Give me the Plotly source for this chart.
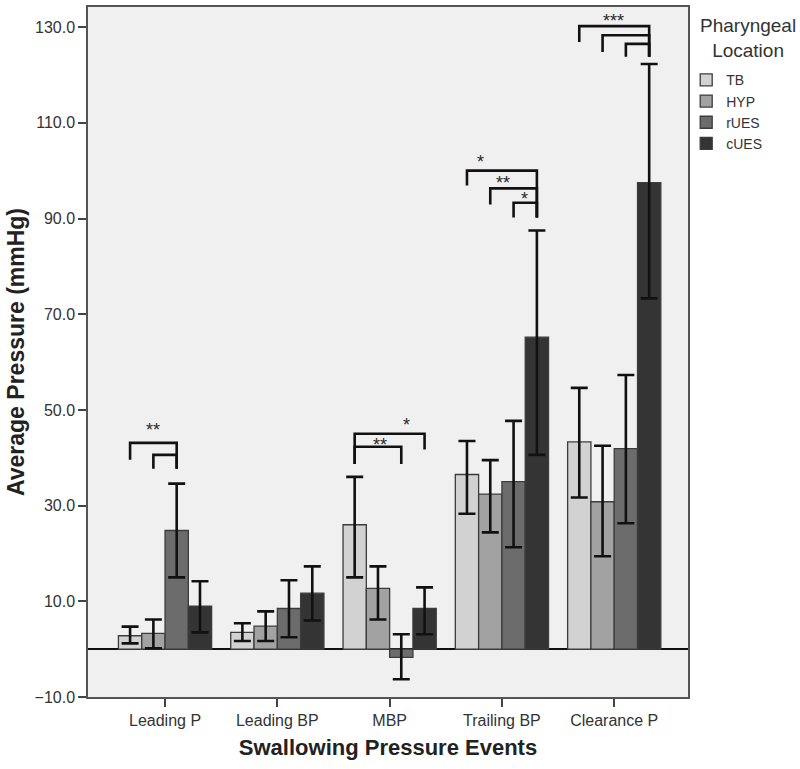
import plotly.graph_objects as go

categories = ["Leading P", "Leading BP", "MBP", "Trailing BP", "Clearance P"]
locations = ["TB", "HYP", "rUES", "cUES"]

mean_TB = [2.8, 3.5, 26.0, 36.5, 43.3]
mean_HYP = [3.3, 4.8, 12.7, 32.4, 30.8]
mean_rUES = [24.8, 8.5, -1.7, 35.0, 41.9]
mean_cUES = [9.0, 11.7, 8.5, 65.2, 97.5]

upper_TB = [4.7, 5.4, 36.0, 43.5, 54.6]
upper_HYP = [6.2, 7.9, 17.3, 39.5, 42.5]
upper_rUES = [34.6, 14.4, 3.1, 47.7, 57.3]
upper_cUES = [14.2, 17.3, 12.9, 87.5, 122.3]

lower_TB = [1.2, 1.7, 15.0, 28.3, 31.7]
lower_HYP = [0.2, 1.7, 6.2, 24.4, 19.4]
lower_rUES = [15.0, 2.5, -6.3, 21.3, 26.3]
lower_cUES = [3.5, 6.0, 3.1, 40.6, 73.3]

means = [mean_TB, mean_HYP, mean_rUES, mean_cUES]
uppers = [upper_TB, upper_HYP, upper_rUES, upper_cUES]
lowers = [lower_TB, lower_HYP, lower_rUES, lower_cUES]
colors = ["#d2d2d2", "#a2a2a2", "#6c6c6c", "#343434"]

# significance brackets: (category, left bar, right bar, top, left leg end, right leg end, label, label y, label bar-position)
brackets = [
    (0, 0, 2, 43.1, 39.6, 37.7, "**", 46.7, 1.0),
    (0, 1, 2, 40.6, 37.7, 37.7, "", None, None),
    (2, 0, 3, 45.0, 38.7, 41.7, "*", 47.7, 2.23),
    (2, 0, 2, 42.3, 38.7, 38.7, "**", 43.6, 1.1),
    (3, 0, 3, 100.0, 96.9, 90.2, "*", 102.7, 0.56),
    (3, 1, 3, 96.3, 92.9, 90.2, "**", 98.3, 1.54),
    (3, 2, 3, 93.3, 90.2, 90.2, "*", 95.0, 2.49),
    (4, 0, 3, 130.2, 126.9, 123.8, "***", 132.1, 1.46),
    (4, 1, 3, 128.3, 124.8, 123.8, "", None, None),
    (4, 2, 3, 126.5, 123.8, 123.8, "", None, None),
]

bargap = 0.17
nb = len(locations)
bw = (1 - bargap) / nb


def bar_x(cat, k):
    return cat - (1 - bargap) / 2 + (k + 0.5) * bw


fig = go.Figure()
xs = list(range(len(categories)))
for i, loc in enumerate(locations):
    m = means[i]
    fig.add_trace(go.Bar(
        x=xs, y=m, name=loc,
        marker=dict(color=colors[i], line=dict(color="#3c3c3c", width=1.3)),
        error_y=dict(type="data", symmetric=False,
                     array=[u - v for u, v in zip(uppers[i], m)],
                     arrayminus=[v - l for v, l in zip(m, lowers[i])],
                     color="#111111", thickness=2.6, width=8.5),
    ))

for cat, a, b, top, lb, rb, lab, ly, lx in brackets:
    x0 = bar_x(cat, a)
    x1 = bar_x(cat, b)
    fig.add_shape(type="path", xref="x", yref="y",
                  path=f"M {x0},{lb} L {x0},{top} L {x1},{top} L {x1},{rb}",
                  line=dict(color="#111111", width=2.6))
    if lab:
        fig.add_annotation(x=bar_x(cat, lx), y=ly, xref="x", yref="y", text=lab,
                           showarrow=False, yanchor="middle", yshift=-4,
                           font=dict(family="Liberation Sans, Arial", size=18, color="#2a2a2a"))

fig.add_annotation(xref="paper", yref="paper", x=1.1, y=1.0, yanchor="top", xanchor="center",
                   yshift=-6,
                   text="Pharyngeal<br>Location", showarrow=False, align="center",
                   font=dict(family="Liberation Sans, Arial", size=19, color="#333333"))

fig.update_layout(
    width=800, height=769,
    margin=dict(l=88, r=112, t=5, b=72),
    paper_bgcolor="white", plot_bgcolor="#f0f0f0",
    barmode="group", bargap=bargap, bargroupgap=0,
    font=dict(family="Liberation Sans, Arial", color="#333333"),
    legend=dict(x=0.997, y=0.917, xanchor="left", yanchor="top",
                font=dict(size=14, color="#333333"), tracegroupgap=0,
                bgcolor="rgba(0,0,0,0)", itemwidth=30),
    showlegend=True,
)
fig.update_xaxes(
    range=[-0.686, 4.657], tickvals=xs, ticktext=categories,
    ticks="outside", ticklen=8, tickwidth=1.5, tickcolor="#444444",
    showline=True, linecolor="#555555", linewidth=1.5, mirror=True,
    showgrid=False, zeroline=False,
    tickfont=dict(size=16, color="#333333"),
    title=dict(text="<b>Swallowing Pressure Events</b>", font=dict(size=22, color="#222222"), standoff=12),
)
fig.update_yaxes(
    range=[-10, 134.2], tickvals=[-10, 10, 30, 50, 70, 90, 110, 130], tickformat=".1f",
    ticks="outside", ticklen=8, tickwidth=1.5, tickcolor="#444444",
    showline=True, linecolor="#555555", linewidth=1.5, mirror=True,
    showgrid=False, zeroline=True, zerolinecolor="#111111", zerolinewidth=1.6,
    tickfont=dict(size=16, color="#333333"),
    title=dict(text="<b>Average Pressure (mmHg)</b>", font=dict(size=23, color="#222222"), standoff=4),
)

fig.write_html("out.html", post_script="document.body.style.margin='0';",
               config={"displayModeBar": False})
